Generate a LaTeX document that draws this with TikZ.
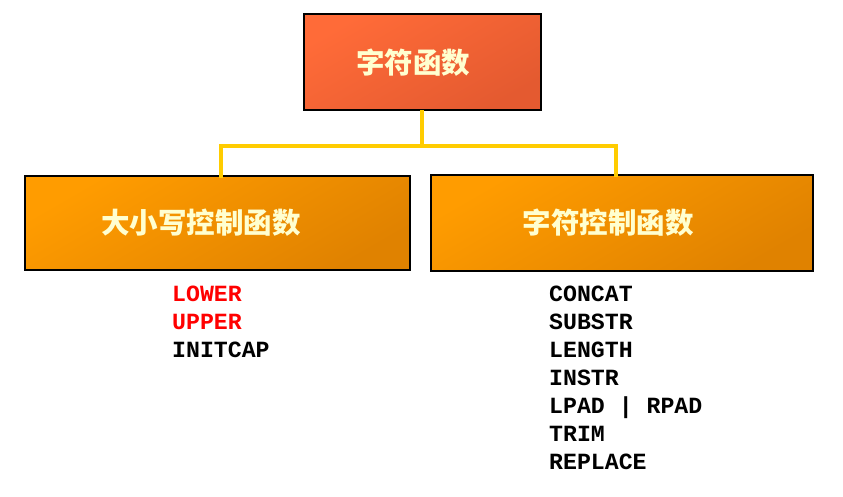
\documentclass[tikz,border=0pt]{standalone}
\usepackage{fontspec}
\setmonofont{Liberation Mono}
\newfontfamily\cjk{Noto Sans CJK SC}
\definecolor{topA}{HTML}{FF6B38}
\definecolor{topB}{HTML}{E45A30}
\definecolor{boxA}{HTML}{FF9C00}
\definecolor{boxB}{HTML}{E08200}
\definecolor{link}{HTML}{FFCC00}
\definecolor{cream}{HTML}{FFFFD0}
\definecolor{lred}{HTML}{FF0000}
\tikzset{
  x=1pt, y=-1pt,
  topbox/.style={draw=black, line width=1.2pt, shading=axis, top color=topA, bottom color=topB, shading angle=30},
  subbox/.style={draw=black, line width=1.2pt, shading=axis, top color=boxA, bottom color=boxB, shading angle=30},
  cjktext/.style={font=\cjk\fontsize{28.5}{31}\selectfont\bfseries, text=cream, inner sep=0pt},
  linkline/.style={draw=link, line width=4pt},
  item/.style={font=\ttfamily\bfseries\fontsize{23.2}{26}\selectfont, anchor=base west, inner sep=0pt},
}
\begin{document}
\begin{tikzpicture}
\useasboundingbox (0,0) rectangle (843,496);
% boxes
\path[topbox] (304,14) rectangle (541,110);
\path[subbox] (25,176) rectangle (410,270);
\path[subbox] (431,175) rectangle (813,271);
\coordinate (topbot) at (422,110);
\coordinate (mid) at (422,146);
\coordinate (lj) at (221,146);
\coordinate (rj) at (616,146);
\coordinate (lt) at (221,176);
\coordinate (rt) at (616,175);
% connectors
\draw[linkline] (topbot) -- (mid);
\draw[linkline, line cap=rect] (lt) -- (lj) -- (rj) -- (rt);
% titles
\node[cjktext] (t0) at (413,63) {字符函数};
\node[cjktext] (t1) at (201,223) {大小写控制函数};
\node[cjktext] (t2) at (608,223) {字符控制函数};
% lists
\node[item, text=lred] (l1) at (172,301) {LOWER};
\node[item, text=lred] (l2) at (172,329) {UPPER};
\node[item] (l3) at (172,357) {INITCAP};
\node[item] (r1) at (549,301) {CONCAT};
\node[item] (r2) at (549,329) {SUBSTR};
\node[item] (r3) at (549,357) {LENGTH};
\node[item] (r4) at (549,385) {INSTR};
\node[item] (r5) at (549,413) {LPAD | RPAD};
\node[item] (r6) at (549,441) {TRIM};
\node[item] (r7) at (549,469) {REPLACE};
\end{tikzpicture}
\end{document}
